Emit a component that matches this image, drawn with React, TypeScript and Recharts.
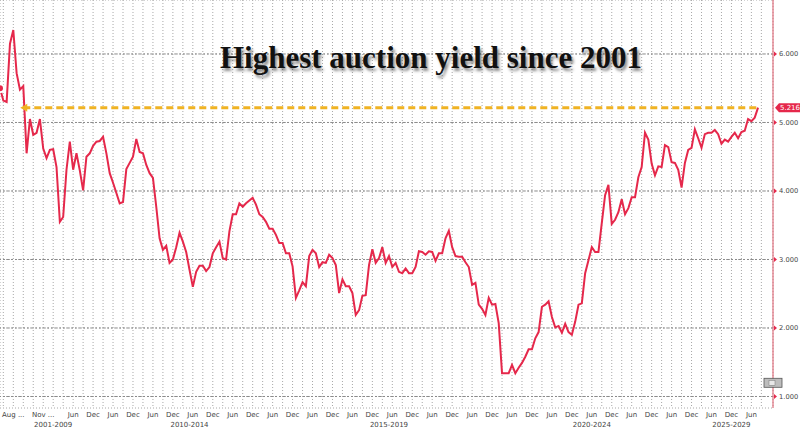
import { LineChart, Line, XAxis, YAxis, CartesianGrid, ReferenceLine, ReferenceDot } from 'recharts';

// auction high yields, one point per auction (oldest first)
const yields: number[] = [
  5.50, 5.32, 5.30, 6.15, 6.35, 5.72, 5.48, 5.53, 4.55, 5.05,
  4.82, 4.85, 5.05, 4.62, 4.48, 4.60, 4.61, 4.35, 3.55, 3.62,
  4.31, 4.72, 4.31, 4.55, 4.30, 4.01, 4.50, 4.55, 4.66, 4.72,
  4.73, 4.79, 4.55, 4.26, 4.12, 3.97, 3.82, 3.84, 4.32, 4.41,
  4.50, 4.76, 4.57, 4.55, 4.38, 4.26, 4.19, 3.77, 3.31, 3.14,
  3.20, 2.95, 3.00, 3.18, 3.39, 3.26, 3.11, 2.85, 2.60, 2.82,
  2.91, 2.91, 2.83, 2.89, 3.09, 3.18, 3.26, 3.02, 3.00, 3.41,
  3.66, 3.66, 3.82, 3.77, 3.82, 3.86, 3.90, 3.80, 3.66, 3.62,
  3.55, 3.45, 3.45, 3.36, 3.24, 3.24, 3.09, 3.09, 2.90, 2.44,
  2.55, 2.67, 2.61, 3.05, 3.14, 3.09, 2.89, 2.96, 2.95, 3.07,
  3.02, 2.92, 2.51, 2.71, 2.61, 2.61, 2.51, 2.19, 2.26, 2.47,
  2.48, 2.92, 3.15, 2.95, 3.02, 3.18, 2.95, 3.05, 2.89, 2.95,
  2.82, 2.80, 2.87, 2.80, 2.80, 2.89, 3.12, 3.11, 3.07, 3.12,
  3.11, 2.98, 3.09, 3.09, 3.31, 3.42, 3.18, 3.05, 3.04, 3.04,
  2.96, 2.89, 2.63, 2.66, 2.34, 2.28, 2.19, 2.44, 2.34, 2.35,
  2.07, 1.34, 1.34, 1.34, 1.46, 1.34, 1.42, 1.49, 1.58, 1.69,
  1.69, 1.85, 1.94, 2.31, 2.34, 2.39, 2.16, 2.01, 2.03, 1.93,
  2.06, 1.94, 1.90, 2.09, 2.34, 2.36, 2.80, 2.99, 3.18, 3.11,
  3.11, 3.53, 3.94, 4.09, 3.52, 3.58, 3.69, 3.88, 3.66, 3.75,
  3.91, 3.91, 4.20, 4.35, 4.85, 4.75, 4.40, 4.23, 4.36, 4.35,
  4.67, 4.64, 4.42, 4.41, 4.31, 4.05, 4.41, 4.60, 4.63, 4.90,
  4.77, 4.63, 4.83, 4.85, 4.85, 4.89, 4.83, 4.69, 4.75, 4.72,
  4.79, 4.85, 4.77, 4.86, 4.88, 5.05, 5.02, 5.07, 5.216,
];

const lastYield = 5.216;
const highSince = 7; // auction index where the 2001 level line starts

// quarterly grid positions (auction index)
const gridTicks: number[] = [];
for (let i = 1; i <= 229; i += 3) gridTicks.push(i);

// period labels
const periodTicks: number[] = [4, 13];
const periodLabels: string[] = ['Aug ...', 'Nov ...'];
for (let k = 0; k <= 34; k++) {
  periodTicks.push(22 + 6 * k);
  periodLabels.push(k % 2 === 0 ? 'Jun' : 'Dec');
}

const groupTicks = [16, 57, 117, 178, 220];
const groupLabels = ['2001-2009', '2010-2014', '2015-2019', '2020-2024', '2025-2029'];

const yTicks = [1, 2, 3, 4, 5, 6];

const data = yields.map((y, i) => ({ i, y }));

const RED = '#e5284b';
const AXIS_FONT = '"DejaVu Sans", Verdana, sans-serif';
const X_MAX = 232.5;

function PeriodTick({ x, y, payload }: any) {
  const idx = periodTicks.indexOf(payload.value);
  if (idx < 0) return null;
  return (
    <text x={x} y={y + 9} textAnchor="middle" fontSize={7} fontFamily={AXIS_FONT} fill="#444">
      {periodLabels[idx]}
    </text>
  );
}

function GroupTick({ x, y, payload }: any) {
  const idx = groupTicks.indexOf(payload.value);
  return (
    <text x={x} y={y - 1} textAnchor="middle" fontSize={7} fontFamily={AXIS_FONT} fill="#444">
      {groupLabels[idx]}
    </text>
  );
}

function YTick({ x, y, payload }: any) {
  return (
    <g>
      <polygon points={`${x + 1},${y - 2.5} ${x + 4},${y} ${x + 1},${y + 2.5}`} fill={RED} />
      <text x={x + 6} y={y + 2.5} fontSize={6.7} fontFamily={AXIS_FONT} fill="#444">
        {Number(payload.value).toFixed(3)}
      </text>
    </g>
  );
}

function ArrowHead({ cx, cy }: any) {
  return <polygon points={`${cx - 3},${cy} ${cx + 4},${cy - 4} ${cx + 4},${cy + 4}`} fill="#f0b323" />;
}

function ValueTag({ cx, cy }: any) {
  const x0 = cx + 2;
  return (
    <g>
      <polygon
        points={`${x0},${cy} ${x0 + 4},${cy - 4.5} ${800},${cy - 4.5} ${800},${cy + 4.5} ${x0 + 4},${cy + 4.5}`}
        fill={RED}
      />
      <text x={x0 + 15} y={cy + 2.5} textAnchor="middle" fontSize={7} fontFamily={AXIS_FONT} fill="#fff">
        {lastYield.toFixed(3)}
      </text>
    </g>
  );
}

// small terminal widget box sitting on the axis near the bottom
function ToolBox({ cx, cy }: any) {
  return (
    <g>
      <rect x={cx - 9} y={cy - 4.5} width={18} height={9} fill="#bdbdbd" stroke="#555" strokeWidth={0.8} />
      <rect x={cx - 4} y={cy - 2.5} width={6} height={5} fill="#e8e8e8" stroke="#777" strokeWidth={0.5} />
    </g>
  );
}

export default function App() {
  return (
    <div style={{ position: 'absolute', left: 0, top: 0, width: 800, height: 429, background: '#fff' }}>
      <LineChart width={800} height={429} data={data} margin={{ top: 0, right: 0, bottom: 0, left: 0 }}>
        <CartesianGrid stroke="#a8a8a8" strokeDasharray="1 2" />
        <XAxis
          dataKey="i"
          type="number"
          domain={[0, X_MAX]}
          ticks={gridTicks}
          interval={0}
          height={20}
          tickSize={0}
          tickMargin={0}
          axisLine={false}
          tickLine={false}
          tick={<PeriodTick />}
        />
        <XAxis
          xAxisId="grp"
          dataKey="i"
          type="number"
          domain={[0, X_MAX]}
          ticks={groupTicks}
          interval={0}
          height={1}
          tickSize={0}
          tickMargin={0}
          axisLine={false}
          tickLine={false}
          tick={<GroupTick />}
        />
        <YAxis
          orientation="right"
          type="number"
          domain={[0.832, 6.788]}
          ticks={yTicks}
          interval={0}
          width={27}
          tickSize={0}
          tickMargin={0}
          axisLine={{ stroke: '#e0707e', strokeWidth: 1.2 }}
          tickLine={false}
          tick={<YTick />}
        />
        {yTicks.map((v) => (
          <ReferenceLine key={v} y={v} stroke="#8a8a8a" strokeDasharray="2 2" />
        ))}
        <ReferenceLine
          segment={[{ x: highSince, y: lastYield }, { x: yields.length - 1, y: lastYield }]}
          stroke="#f0b323"
          strokeWidth={3}
          strokeDasharray="7 4"
        />
        <ReferenceDot x={highSince} y={lastYield} r={4} shape={<ArrowHead />} />
        <Line
          type="linear"
          dataKey="y"
          stroke={RED}
          strokeWidth={2}
          dot={false}
          isAnimationActive={false}
        />
        <ReferenceDot x={X_MAX} y={lastYield} r={4} shape={<ValueTag />} />
        <ReferenceDot x={X_MAX} y={1.2} r={4} shape={<ToolBox />} />
      </LineChart>
      <div
        style={{
          position: 'absolute',
          left: 220,
          top: 41,
          fontFamily: '"Liberation Serif", "Times New Roman", serif',
          fontWeight: 'bold',
          fontSize: 31,
          lineHeight: '34px',
          color: '#111',
          whiteSpace: 'nowrap',
          textShadow: '2px 3px 3px rgba(0,0,0,0.45)',
        }}
      >
        Highest auction yield since 2001
      </div>
    </div>
  );
}
